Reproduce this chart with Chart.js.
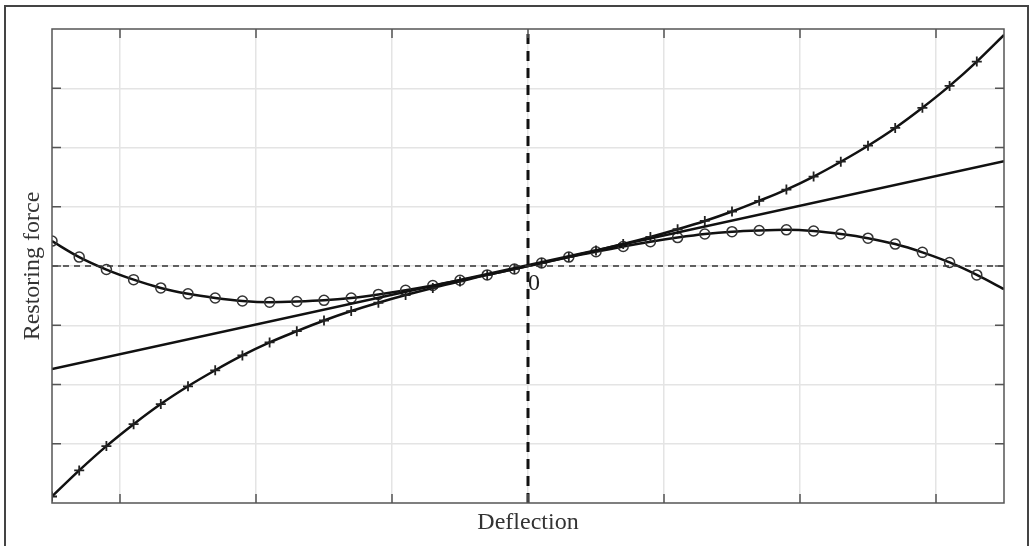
<!DOCTYPE html>
<html lang="en">
<head>
    <meta charset="UTF-8">
    <title>Restoring force vs deflection</title>
    <script src="https://cdn.jsdelivr.net/npm/chart.js"></script>
    <style>
        body { margin: 0; background: #fff; }
        canvas { display: block; }
    </style>
</head>
<body>
    <canvas id="forceChart" width="1030" height="546"></canvas>
    <script>
        // deflection samples (marker positions every 0.2)
        const deflection = [-3.5, -3.3, -3.1, -2.9, -2.7, -2.5, -2.3, -2.1, -1.9, -1.7, -1.5, -1.3,
            -1.1, -0.9, -0.7, -0.5, -0.3, -0.1, 0.1, 0.3, 0.5, 0.7, 0.9, 1.1,
            1.3, 1.5, 1.7, 1.9, 2.1, 2.3, 2.5, 2.7, 2.9, 3.1, 3.3, 3.5];

        // hardening spring (+ markers)
        const hardening = [-3.89, -3.45, -3.04, -2.67, -2.33, -2.03, -1.76, -1.51, -1.29, -1.10, -0.92, -0.76,
            -0.62, -0.49, -0.37, -0.26, -0.15, -0.05, 0.05, 0.15, 0.26, 0.37, 0.49, 0.62,
            0.76, 0.92, 1.10, 1.29, 1.51, 1.76, 2.03, 2.33, 2.67, 3.04, 3.45, 3.90];

        // softening spring (o markers)
        const softening = [0.42, 0.15, -0.06, -0.23, -0.37, -0.47, -0.54, -0.59, -0.61, -0.60, -0.58, -0.54,
            -0.48, -0.41, -0.33, -0.24, -0.15, -0.05, 0.05, 0.15, 0.24, 0.33, 0.41, 0.48,
            0.54, 0.58, 0.60, 0.61, 0.59, 0.54, 0.47, 0.37, 0.23, 0.06, -0.15, -0.39];

        // linear spring
        const linearX = [-3.5, 3.5];
        const linearY = [-1.74, 1.77];

        const xTicks = [-3, -2, -1, 0, 1, 2, 3];
        const yTicks = [-3, -2, -1, 0, 1, 2, 3];

        const serif = 'Liberation Serif';
        const toPts = (xs, ys) => xs.map((x, i) => ({ x: x, y: ys[i] }));
        // no marker on the last sample
        const markerRadius = deflection.map((x, i) => i === deflection.length - 1 ? 0 : 5);

        const framePlugin = {
            id: 'frame',
            afterDatasetsDraw(chart) {
                const ctx = chart.ctx;
                const a = chart.chartArea;
                const xs = chart.scales.x, ys = chart.scales.y;
                ctx.save();
                ctx.strokeStyle = '#555';
                ctx.lineWidth = 1.5;
                ctx.strokeRect(a.left, a.top, a.right - a.left, a.bottom - a.top);
                ctx.beginPath();
                xTicks.forEach(v => {
                    const px = xs.getPixelForValue(v);
                    ctx.moveTo(px, a.bottom); ctx.lineTo(px, a.bottom - 9);
                    ctx.moveTo(px, a.top); ctx.lineTo(px, a.top + 9);
                });
                yTicks.forEach(v => {
                    const py = ys.getPixelForValue(v);
                    ctx.moveTo(a.left, py); ctx.lineTo(a.left + 9, py);
                    ctx.moveTo(a.right, py); ctx.lineTo(a.right - 9, py);
                });
                ctx.stroke();

                // origin label
                ctx.fillStyle = '#222';
                ctx.font = '24px "' + serif + '"';
                ctx.textAlign = 'left';
                ctx.textBaseline = 'top';
                ctx.fillText('0', xs.getPixelForValue(0), ys.getPixelForValue(0) + 6);
                ctx.restore();
            },
            afterDraw(chart) {
                // outer border of the figure
                const ctx = chart.ctx;
                ctx.save();
                ctx.strokeStyle = '#444';
                ctx.lineWidth = 2;
                ctx.beginPath();
                ctx.moveTo(5, chart.height);
                ctx.lineTo(5, 6);
                ctx.lineTo(1028, 6);
                ctx.lineTo(1028, chart.height);
                ctx.stroke();
                ctx.restore();
            }
        };

        new Chart(document.getElementById('forceChart'), {
            type: 'line',
            data: {
                datasets: [
                    {
                        data: toPts(linearX, [0, 0]),
                        borderColor: '#333',
                        borderWidth: 1.5,
                        borderDash: [6, 5],
                        pointRadius: 0
                    },
                    {
                        data: toPts([0, 0], [-4, 4]),
                        borderColor: '#111',
                        borderWidth: 3,
                        borderDash: [10, 7],
                        pointRadius: 0
                    },
                    {
                        data: toPts(linearX, linearY),
                        borderColor: '#111',
                        borderWidth: 2.5,
                        pointRadius: 0
                    },
                    {
                        data: toPts(deflection, hardening),
                        borderColor: '#111',
                        borderWidth: 2.5,
                        cubicInterpolationMode: 'monotone',
                        pointStyle: 'cross',
                        pointRadius: markerRadius,
                        pointBorderColor: '#222',
                        pointBorderWidth: 1.8
                    },
                    {
                        data: toPts(deflection, softening),
                        borderColor: '#111',
                        borderWidth: 2.5,
                        cubicInterpolationMode: 'monotone',
                        pointStyle: 'circle',
                        pointRadius: markerRadius,
                        pointBackgroundColor: 'rgba(0,0,0,0)',
                        pointBorderColor: '#333',
                        pointBorderWidth: 1.5
                    }
                ]
            },
            options: {
                responsive: false,
                animation: false,
                devicePixelRatio: 1,
                layout: { padding: { top: 29, right: 26, left: 0, bottom: 0 } },
                plugins: { legend: { display: false }, tooltip: { enabled: false } },
                scales: {
                    x: {
                        type: 'linear',
                        min: -3.5,
                        max: 3.5,
                        ticks: { display: false },
                        afterBuildTicks(scale) { scale.ticks = xTicks.map(v => ({ value: v })); },
                        grid: { color: '#e4e4e4', lineWidth: 1.5, drawTicks: false },
                        border: { display: false },
                        title: {
                            display: true,
                            text: 'Deflection',
                            color: '#333',
                            font: { family: serif, size: 24 },
                            padding: { top: 0, bottom: 9 }
                        },
                        afterFit(scale) { scale.height = 43; }
                    },
                    y: {
                        type: 'linear',
                        min: -4,
                        max: 4,
                        ticks: { display: false },
                        afterBuildTicks(scale) { scale.ticks = yTicks.map(v => ({ value: v })); },
                        grid: { color: '#e4e4e4', lineWidth: 1.5, drawTicks: false },
                        border: { display: false },
                        title: {
                            display: true,
                            text: 'Restoring force',
                            color: '#333',
                            font: { family: serif, size: 24 },
                            padding: { top: 18, bottom: 0 }
                        },
                        afterFit(scale) { scale.width = 52; }
                    }
                }
            },
            plugins: [framePlugin]
        });
    </script>
</body>
</html>
